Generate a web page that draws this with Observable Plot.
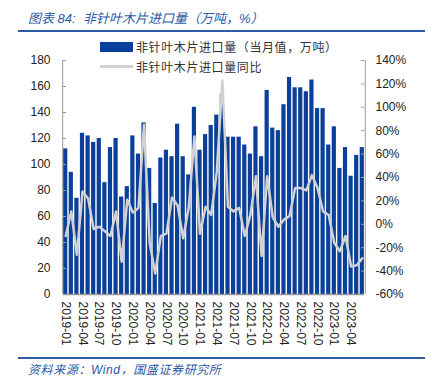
<!DOCTYPE html>
<html><head><meta charset="utf-8">
<script src="https://cdn.jsdelivr.net/npm/d3@7"></script>
<script src="https://cdn.jsdelivr.net/npm/@observablehq/plot@0.6"></script>
<style>
body{margin:0;background:#fff;font-family:"Liberation Sans",Arial,"Noto Sans CJK SC",sans-serif;}
#wrap{position:relative;width:432px;height:385px;overflow:hidden;}
#title{position:absolute;left:28px;top:8px;font-size:13px;font-style:italic;color:#2a5aa8;font-family:"Liberation Sans","Noto Sans CJK SC",sans-serif;white-space:nowrap;}
#tline{position:absolute;left:18px;width:407px;top:30px;height:2px;background:#2e5ca5;}
#chart{position:absolute;left:0;top:35px;}
#fline{position:absolute;left:18px;width:407px;top:357px;height:2px;background:#2e5ca5;}
#source{position:absolute;left:28px;top:360px;font-size:12px;font-style:italic;color:#2a5aa8;letter-spacing:0.6px;font-family:"Liberation Sans","Noto Sans CJK SC",sans-serif;white-space:nowrap;}
.leg{position:absolute;left:100px;font-size:12px;color:#333;letter-spacing:0.6px;font-family:"Noto Sans CJK SC",sans-serif;white-space:nowrap;display:flex;align-items:center;}
.sw1{width:33px;height:10px;background:#0a3f9a;margin-right:3px;}
.sw2{width:33px;height:3px;background:#d2d2d2;margin-right:3px;}
</style></head>
<body>
<div id="wrap">
<div id="title">图表 84:&nbsp; 非针叶木片进口量（万吨，%）</div>
<div id="tline"></div>
<div id="chart"></div>
<div class="leg" style="top:38px"><div class="sw1"></div>非针叶木片进口量（当月值，万吨）</div>
<div class="leg" style="top:58px"><div class="sw2"></div>非针叶木片进口量同比</div>
<div id="fline"></div>
<div id="source">资料来源：Wind，国盛证券研究所</div>
</div>
<script>
const months = [];
for (let y = 2019; y <= 2023; y++) for (let m = 1; m <= 12; m++) {
  if (y === 2023 && m > 6) break;
  months.push(`${y}-${String(m).padStart(2, "0")}`);
}
const volume = [112,94,74,124,122,117,120,86,113,120,75,83,
                122,108,132,97,70,105,111,106,131,106,92,144,
                111,123,130,138,154,121,121,121,115,108,129,106,
                157,128,126,146,167,159,159,156,165,143,143,115,
                129,97,113,91,107,113];
const yoy = [-10,11,-26,28,22,-4,-2,-6,-10,11,-32,21,
             10,14,85,-16,-42,-10,-8,23,16,-12,15,75,
             -8,15,8,45,123,15,11,14,-10,8,41,-27,
             41,6,-2,4,7,31,31,29,42,31,11,8,
             -16,-23,-10,-36,-35,-29];
const leftTicks = d3.range(0, 181, 20);
const rightTicks = d3.range(-60, 141, 20);
const xTicks = months.filter((d, i) => i % 3 === 0);

const toLeft = p => (p + 60) * 180 / 200;
const bars = months.map((m, i) => ({month: m, v: volume[i]}));
const line = months.map((m, i) => ({month: m, v: toLeft(yoy[i])}));

const axisColor = "#999";
const chart = Plot.plot({
  width: 432, height: 320,
  marginTop: 25, marginBottom: 61, marginLeft: 63, marginRight: 68,
  style: {fontFamily: "'Liberation Sans', Arial, sans-serif", fontSize: "12px", color: "#222", background: "transparent"},
  x: {type: "band", domain: months, paddingInner: 0.25, paddingOuter: 0.02, label: null},
  y: {domain: [0, 180], label: null},
  marks: [
    Plot.barY(bars, {x: "month", y: "v", fill: "#0a3f9a"}),
    Plot.line(line, {x: "month", y: "v", stroke: "#d2d2d2", strokeWidth: 2.5, strokeLinejoin: "round"}),
    Plot.ruleX([months[0]], {dx: -3, y1: 0, y2: 180, stroke: axisColor}),
    Plot.ruleX([months[months.length - 1]], {dx: 3, y1: 0, y2: 180, stroke: axisColor}),
    Plot.ruleY([0], {stroke: axisColor, strokeWidth: 1.5}),
    Plot.tickY(leftTicks, {y: d => d, insetRight: 298, stroke: axisColor}),
    Plot.tickY(rightTicks.map(toLeft), {y: d => d, insetLeft: 298, stroke: axisColor}),
    Plot.axisY(leftTicks, {anchor: "left", tickSize: 0, tickPadding: 13, fontSize: 12}),
    Plot.axisY(rightTicks.map(toLeft), {anchor: "right", tickSize: 0, tickPadding: 11, fontSize: 12,
      tickFormat: d => Math.round(d * 200 / 180 - 60) + "%"}),
    Plot.axisX(xTicks, {anchor: "bottom", tickSize: 0, tickPadding: 7, tickRotate: 90, fontSize: 12})
  ]
});
document.getElementById("chart").appendChild(chart);
</script>
</body></html>
